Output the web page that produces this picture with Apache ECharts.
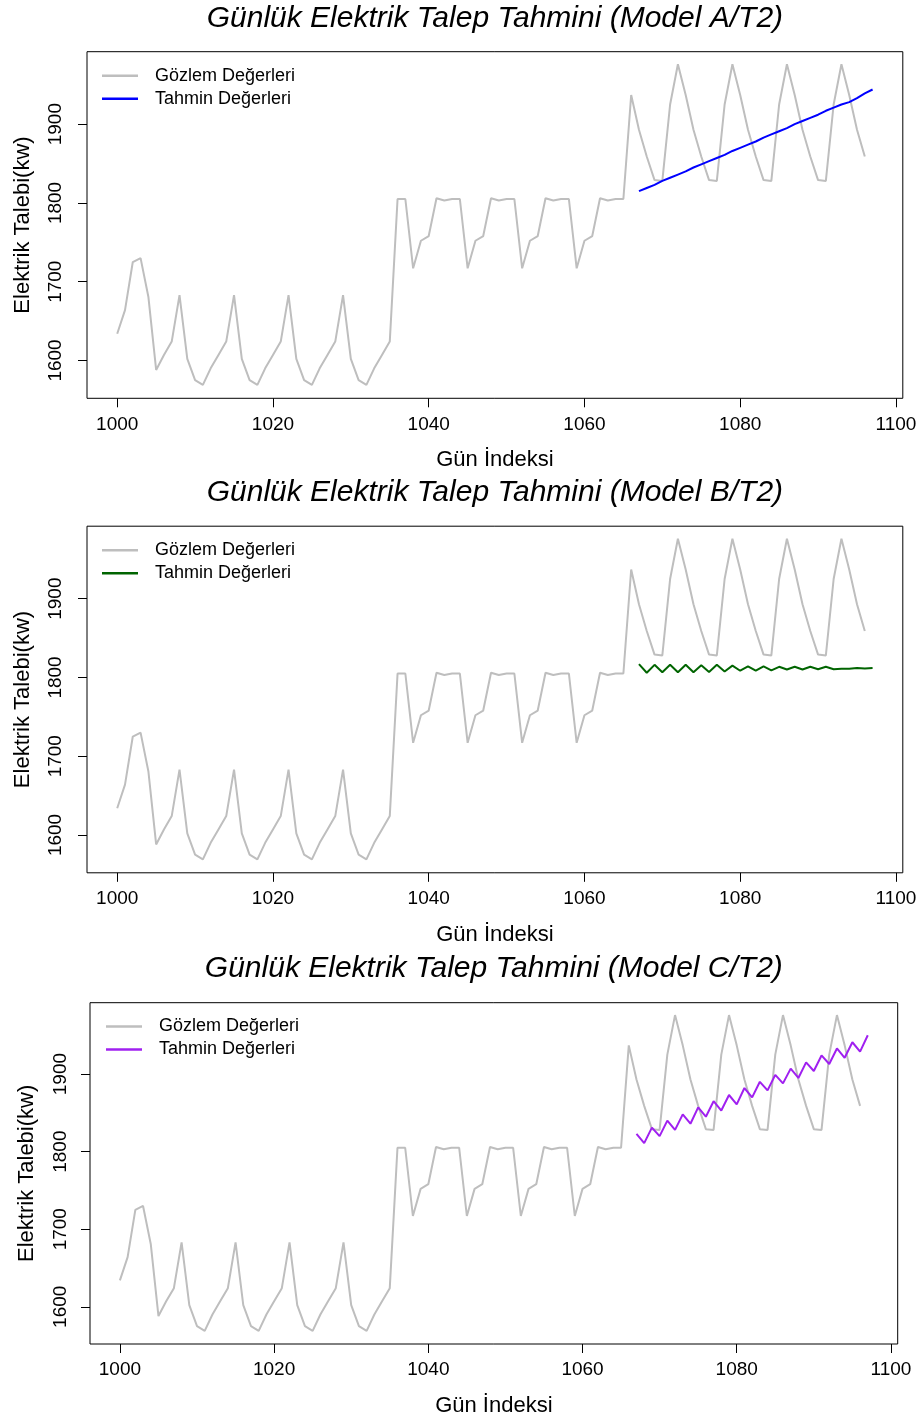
<!DOCTYPE html>
<html><head><meta charset="utf-8">
<script src="https://cdn.jsdelivr.net/npm/echarts@6/dist/echarts.min.js"></script>
<style>html,body{margin:0;padding:0;background:#fff}#c{width:923px;height:1420px}</style>
</head><body><div id="c"></div>
<script>
// ---- data ----
const panelTitles = [
  'Günlük Elektrik Talep Tahmini (Model A/T2)',
  'Günlük Elektrik Talep Tahmini (Model B/T2)',
  'Günlük Elektrik Talep Tahmini (Model C/T2)'
];
const xAxisTitle = 'Gün İndeksi';
const yAxisTitle = 'Elektrik Talebi(kw)';
const legendNames = ['Gözlem Değerleri', 'Tahmin Değerleri'];
const observedStart = 1000;
const observed = [
  1634,1664,1725,1730,1681,1588,1607,1624,
  1683,1602,1575,1569,1590,1607,1624,
  1683,1602,1575,1569,1590,1607,1624,
  1683,1602,1575,1569,1590,1607,1624,
  1683,1602,1575,1569,1590,1607,1624,
  1805,1805,1717,1752,1758,1806,1803,
  1805,1805,1717,1752,1758,1806,1803,
  1805,1805,1717,1752,1758,1806,1803,
  1805,1805,1717,1752,1758,1806,1803,
  1805,1805,
  1937,1893,1859,1829,1828,1925,
  1976,1937,1893,1859,1829,1828,1925,
  1976,1937,1893,1859,1829,1828,1925,
  1976,1937,1893,1859,1829,1828,1925,
  1976,1937,1893,1859
];
const forecastStart = 1067;
const forecastA = [1815,1819,1823,1828,1832,1836,1840,1845,1849,1853,1857,1861,1866,1870,1874,1878,1883,1887,1891,1895,1900,1904,1908,1912,1917,1921,1925,1928,1933,1939,1944];
const forecastB = [1817,1806,1816,1806.5,1816,1806.5,1816,1806.5,1815.5,1807,1816,1807.5,1815,1808.5,1814,1808.5,1814,1809,1813.5,1810,1813.5,1810,1813.5,1810.5,1813.5,1810.5,1811,1811,1812,1811.5,1812];
const forecastC = [1823,1811,1831,1820,1840,1828,1848,1836,1857,1845,1865,1853,1873,1861,1882,1870,1890,1879,1899,1888,1907,1895,1915,1904,1924,1913,1933,1921,1941,1929,1950];
const xTickValues = [1000,1020,1040,1060,1080,1100];
const yTickValues = [1600,1700,1800,1900];
const xLimits = [996.12, 1100.88];
const yLimits = [1552, 1992];

// ---- styles / layout ----
const FONT = '"Liberation Sans", Arial, sans-serif';
const forecasts = [forecastA, forecastB, forecastC];
const fcColors = ['#0000FF', '#006400', '#A020F0'];
const obsColor = '#BEBEBE';
const panels = [
  {left: 87, top: 51.7, width: 815.8, height: 346.6, titleTop: 3.5, legLeft: 102, legTop: 66.8, labMargin: 21.5, nameGapY: 53},
  {left: 87, top: 526.2, width: 815.8, height: 346.6, titleTop: 478, legLeft: 102, legTop: 541.3, labMargin: 21.5, nameGapY: 53},
  {left: 90, top: 1002.7, width: 807.7, height: 341.3, titleTop: 953.5, legLeft: 106, legTop: 1017.5, labMargin: 19.5, nameGapY: 52}
];

const toPairs = (start, arr) => arr.map((v, i) => [start + i, v]);

const option = {
  animation: false,
  backgroundColor: '#fff',
  title: panels.map((p, i) => ({
    text: panelTitles[i], left: p.left + p.width / 2, top: p.titleTop, textAlign: 'center', padding: 0,
    textStyle: {fontFamily: FONT, fontSize: 30, fontStyle: 'italic', fontWeight: 'normal', color: '#000'}
  })),
  grid: panels.map(p => ({left: p.left, top: p.top, width: p.width, height: p.height,
    show: true, borderColor: '#000', borderWidth: 1, backgroundColor: 'transparent', containLabel: false})),
  xAxis: panels.map((p, i) => ({
    type: 'value', gridIndex: i, min: xLimits[0], max: xLimits[1],
    name: xAxisTitle, nameLocation: 'middle', nameGap: 51,
    nameTextStyle: {fontFamily: FONT, fontSize: 22, color: '#000'},
    axisLine: {show: false}, splitLine: {show: false},
    axisTick: {show: true, inside: false, length: 9, lineStyle: {color: '#000', width: 1}, customValues: xTickValues},
    axisLabel: {show: true, margin: 16.5, fontFamily: FONT, fontSize: 19, color: '#000', customValues: xTickValues,
      formatter: v => String(v)}
  })),
  yAxis: panels.map((p, i) => ({
    type: 'value', gridIndex: i, min: yLimits[0], max: yLimits[1],
    name: yAxisTitle, nameLocation: 'middle', nameGap: p.nameGapY, nameRotate: 90,
    nameTextStyle: {fontFamily: FONT, fontSize: 22, color: '#000'},
    axisLine: {show: false}, splitLine: {show: false},
    axisTick: {show: true, inside: false, length: 9, lineStyle: {color: '#000', width: 1}, customValues: yTickValues},
    axisLabel: {show: true, rotate: 90, margin: p.labMargin, fontFamily: FONT, fontSize: 19, color: '#000', customValues: yTickValues,
      formatter: v => String(v)}
  })),
  legend: panels.map((p, i) => ({
    orient: 'vertical', left: p.legLeft, top: p.legTop, padding: 0, itemGap: 5,
    itemWidth: 36, itemHeight: 2.5, icon: 'rect', selectedMode: false,
    data: legendNames.map(n => n + '|' + i),
    formatter: name => name.split('|')[0],
    textStyle: {fontFamily: FONT, fontSize: 18, color: '#000', padding: [0, 0, 0, 12]}
  })),
  series: []
};

panels.forEach((p, i) => {
  option.series.push({
    type: 'line', name: legendNames[0] + '|' + i, xAxisIndex: i, yAxisIndex: i,
    data: toPairs(observedStart, observed), symbol: 'none', showSymbol: false,
    lineStyle: {color: obsColor, width: 2}, itemStyle: {color: obsColor}, z: 2, silent: true
  });
  option.series.push({
    type: 'line', name: legendNames[1] + '|' + i, xAxisIndex: i, yAxisIndex: i,
    data: toPairs(forecastStart, forecasts[i]), symbol: 'none', showSymbol: false,
    lineStyle: {color: fcColors[i], width: 2}, itemStyle: {color: fcColors[i]}, z: 3, silent: true
  });
});

const chart = echarts.init(document.getElementById('c'), null, {renderer: 'canvas'});
chart.setOption(option);
</script>
</body></html>
